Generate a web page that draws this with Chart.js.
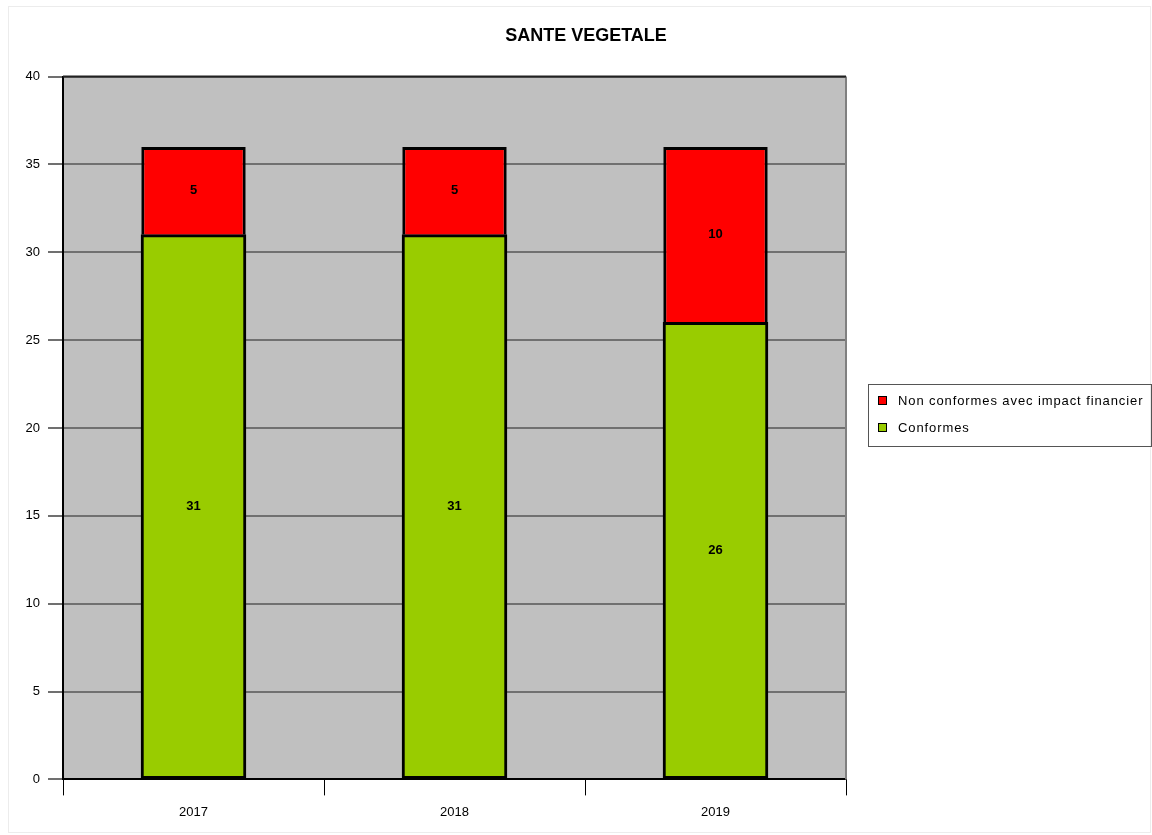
<!DOCTYPE html>
<html>
<head>
<meta charset="utf-8">
<script src="https://cdn.jsdelivr.net/npm/chart.js@4"></script>
<style>
  html, body { margin: 0; padding: 0; background: #fff; }
  #wrap { width: 1152px; height: 835px; position: relative; }
</style>
</head>
<body>
<div id="wrap"><canvas id="myChart" width="1152" height="835"></canvas></div>
<script>
const years = ['2017', '2018', '2019'];
const conformes = [31, 31, 26];
const nonConformes = [5, 5, 10];
const yTicks = [0, 5, 10, 15, 20, 25, 30, 35, 40];

const FONT = '"Liberation Sans", Arial, sans-serif';

// grey plot background + frame round the plot area
const plotArea = {
  id: 'plotArea',
  beforeDraw(chart) {
    const { ctx, chartArea: a } = chart;
    ctx.save();
    ctx.strokeStyle = '#ececec';
    ctx.lineWidth = 1;
    ctx.strokeRect(8.5, 6.5, chart.width - 10, chart.height - 9);
    ctx.fillStyle = '#c0c0c0';
    ctx.fillRect(a.left, a.top, a.right - a.left, a.bottom - a.top);
    ctx.restore();
  },
  afterDatasetsDraw(chart) {
    const { ctx, chartArea: a } = chart;
    ctx.save();
    ctx.strokeStyle = '#808080';
    ctx.lineWidth = 2;
    ctx.beginPath();
    ctx.moveTo(a.right, a.top);
    ctx.lineTo(a.right, a.bottom);
    ctx.stroke();
    ctx.strokeStyle = '#222';
    ctx.beginPath();
    ctx.moveTo(a.left, a.top);
    ctx.lineTo(a.right, a.top);
    ctx.stroke();
    ctx.restore();
  }
};

// value in the middle of each segment
const segLabels = {
  id: 'segLabels',
  afterDatasetsDraw(chart) {
    const { ctx } = chart;
    ctx.save();
    ctx.font = 'bold 13px ' + FONT;
    ctx.fillStyle = '#000';
    ctx.textAlign = 'center';
    ctx.textBaseline = 'middle';
    chart.data.datasets.forEach((ds, i) => {
      chart.getDatasetMeta(i).data.forEach((bar, j) => {
        ctx.fillText(ds.data[j], bar.x, (bar.y + bar.base) / 2);
      });
    });
    ctx.restore();
  }
};

// legend in a framed box, right of the plot
const sideLegend = {
  id: 'sideLegend',
  afterDraw(chart) {
    const { ctx } = chart;
    const items = chart.data.datasets.slice().reverse();
    ctx.save();
    ctx.strokeStyle = '#555';
    ctx.lineWidth = 1;
    ctx.strokeRect(868.5, 384.5, 283, 62);
    ctx.font = '13px ' + FONT;
    ctx.letterSpacing = '0.9px';
    ctx.textBaseline = 'middle';
    items.forEach((ds, i) => {
      const y = 400 + i * 27;
      ctx.fillStyle = ds.backgroundColor;
      ctx.fillRect(878, y - 4, 9, 9);
      ctx.strokeStyle = '#000';
      ctx.strokeRect(878.5, y - 3.5, 8, 8);
      ctx.fillStyle = '#000';
      ctx.fillText(ds.label, 898, y + 1);
    });
    ctx.restore();
  }
};

const ctx = document.getElementById('myChart').getContext('2d');
const myChart = new Chart(ctx, {
  type: 'bar',
  data: {
    labels: years,
    datasets: [
      {
        label: 'Conformes',
        data: conformes,
        backgroundColor: '#99cc00',
        borderColor: '#000',
        borderWidth: 3,
        borderSkipped: false,
        inflateAmount: 0.6,
      },
      {
        label: 'Non conformes avec impact financier',
        data: nonConformes,
        backgroundColor: '#ff0000',
        borderColor: '#000',
        borderWidth: 3,
        borderSkipped: 'bottom',
      },
    ],
  },
  options: {
    responsive: false,
    animation: false,
    layout: { padding: { left: 20, top: 10, right: 0, bottom: 6 } },
    datasets: { bar: { barPercentage: 0.4, categoryPercentage: 1 } },
    scales: {
      x: {
        stacked: true,
        grid: { display: true, drawOnChartArea: false, color: '#000', tickLength: 16, offset: true },
        border: { color: '#000', width: 2 },
        ticks: { color: '#000', font: { family: FONT, size: 13 }, padding: 9 },
      },
      y: {
        stacked: true,
        min: 0,
        max: 40,
        afterBuildTicks: axis => { axis.ticks = yTicks.map(v => ({ value: v })); },
        afterFit: axis => { axis.width = 43; },
        grid: { color: '#707070', lineWidth: 2, tickLength: 15 },
        border: { color: '#000', width: 2 },
        ticks: { color: '#000', font: { family: FONT, size: 13 }, padding: 8 },
      },
      // empty axis that keeps room for the legend on the right
      side: {
        type: 'linear',
        position: 'right',
        display: true,
        afterFit: axis => { axis.width = 306; },
        grid: { display: false },
        border: { display: false },
        ticks: { display: false },
      },
    },
    plugins: {
      title: {
        display: true,
        text: 'SANTE VEGETALE',
        color: '#000',
        font: { family: FONT, size: 18, weight: 'bold' },
        padding: { top: 15, bottom: 30 },
      },
      legend: { display: false },
      tooltip: { enabled: false },
    },
  },
  plugins: [plotArea, segLabels, sideLegend],
});
</script>
</body>
</html>
